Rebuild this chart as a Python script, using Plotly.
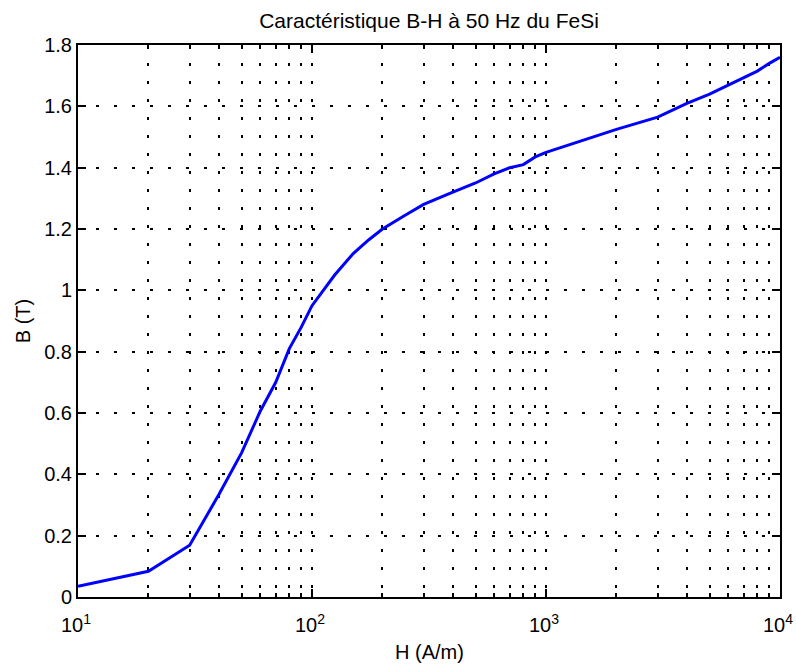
import plotly.graph_objects as go

# H (A/m) and B (T)
h_values = [10, 20, 30, 40, 50, 60, 70, 80, 90, 100, 125, 150, 175, 200, 250, 300,
            400, 500, 600, 700, 800, 900, 1000, 2000, 3000, 4000, 5000, 6000,
            7000, 8000, 9000, 10000]
b_values = [0.035, 0.084, 0.169, 0.334, 0.47, 0.605, 0.70, 0.81, 0.88, 0.95, 1.05,
            1.12, 1.165, 1.20, 1.245, 1.28, 1.32, 1.35, 1.38, 1.40, 1.41, 1.435,
            1.45, 1.525, 1.565, 1.61, 1.64, 1.67, 1.695, 1.715, 1.74, 1.76]

x_tickvals = [10, 100, 1000, 10000]
x_ticktext = ["10<sup>1</sup>", "10<sup>2</sup>", "10<sup>3</sup>", "10<sup>4</sup>"]

font_family = "Liberation Sans, Arial, Helvetica, sans-serif"
grid_dash = "3px,15px"

fig = go.Figure(go.Scatter(
    x=h_values,
    y=b_values,
    mode="lines",
    line=dict(color="rgb(0,0,255)", width=3),
    showlegend=False,
))

fig.update_layout(
    width=796,
    height=664,
    margin=dict(l=78, r=16, t=45, b=67),
    paper_bgcolor="white",
    plot_bgcolor="white",
    font=dict(family=font_family, size=20, color="black"),
    title=dict(
        text="Caractéristique B-H à 50 Hz du FeSi",
        x=0.5, xref="paper", xanchor="center",
        y=1 - 21 / 664, yref="container", yanchor="middle",
        font=dict(size=21),
    ),
    annotations=[
        dict(text="H (A/m)", xref="paper", yref="paper", x=0.5, y=-0.1,
             yanchor="middle", xanchor="center", showarrow=False,
             font=dict(size=20)),
        dict(text="B (T)", xref="paper", yref="paper", x=-0.078, y=0.5,
             xanchor="center", yanchor="middle", textangle=-90, showarrow=False,
             font=dict(size=20)),
    ],
)

fig.update_xaxes(
    type="log",
    range=[1, 4],
    automargin=False,
    tickmode="array",
    tickvals=x_tickvals,
    ticktext=x_ticktext,
    ticklabelshift=-2,
    ticklabelstandoff=9,
    ticks="inside",
    ticklen=8,
    tickwidth=1.5,
    tickcolor="black",
    showline=True,
    linecolor="black",
    linewidth=2,
    mirror="ticks",
    showgrid=True,
    gridcolor="black",
    gridwidth=1.5,
    griddash=grid_dash,
    zeroline=False,
    minor=dict(
        dtick="D1",
        ticks="inside",
        ticklen=4,
        tickcolor="black",
        tickwidth=1.5,
        showgrid=True,
        gridcolor="black",
        gridwidth=1.5,
        griddash=grid_dash,
    ),
)

fig.update_yaxes(
    range=[0, 1.8],
    dtick=0.2,
    automargin=False,
    ticks="inside",
    ticklen=8,
    tickwidth=1.5,
    tickcolor="black",
    showline=True,
    linecolor="black",
    linewidth=2,
    mirror="ticks",
    showgrid=True,
    gridcolor="black",
    gridwidth=1.5,
    griddash=grid_dash,
    zeroline=False,
)

# the page body has a default 8px margin; drop it so the figure fills the window
fig.write_html(
    "out.html",
    config={"displayModeBar": False},
    post_script="document.body.style.margin='0px';",
)
